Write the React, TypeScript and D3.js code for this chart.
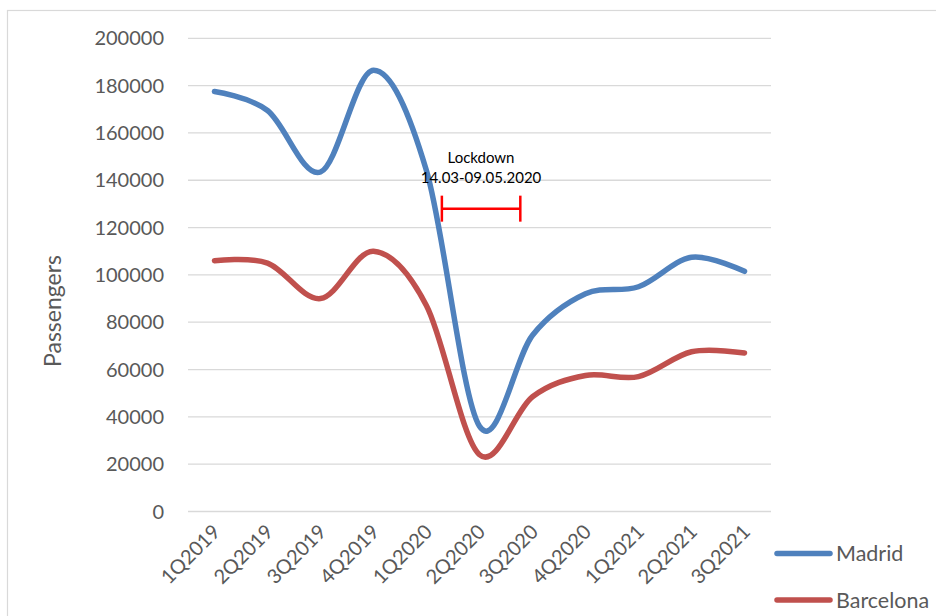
import React from "react";
import * as d3 from "d3";

// Quarterly passenger counts
const quarters = [
  "1Q2019", "2Q2019", "3Q2019", "4Q2019", "1Q2020", "2Q2020",
  "3Q2020", "4Q2020", "1Q2021", "2Q2021", "3Q2021",
];
const madrid = [177500, 169500, 143500, 186500, 144000, 36000, 74500, 92000, 95000, 107500, 101500];
const barcelona = [106000, 105000, 90000, 110000, 87000, 24000, 48500, 57500, 57000, 67500, 67000];
const yTicks = [0, 20000, 40000, 60000, 80000, 100000, 120000, 140000, 160000, 180000, 200000];

// Lockdown interval, expressed in fractional category positions
const lockdownStart = 4.29;
const lockdownEnd = 5.77;
const lockdownLevel = 128000;

const W = 936;
const H = 616;
const FONT = "Lato, 'Open Sans', sans-serif";

const series = [
  { name: "Madrid", values: madrid, color: "#4F81BD" },
  { name: "Barcelona", values: barcelona, color: "#C0504D" },
];

export default function App() {
  const x = d3.scaleBand<string>().domain(quarters).range([188, 771]);
  const cx = (i: number) => (x(quarters[0]) as number) + x.bandwidth() / 2 + i * x.step();
  const y = d3.scaleLinear().domain([0, 200000]).range([511.5, 38.3]);

  const line = d3
    .line<number>()
    .x((_, i) => cx(i))
    .y((d) => y(d))
    .curve(d3.curveCardinal.tension(0));

  const lx0 = cx(lockdownStart);
  const lx1 = cx(lockdownEnd);
  const ly = y(lockdownLevel);

  return (
    <div style={{ position: "absolute", left: 0, top: 0, width: W, height: H, background: "#fff" }}>
      <svg width={W} height={H} style={{ display: "block" }}>
        <rect x={0} y={0} width={W} height={H} fill="#fff" />
        {/* chart frame */}
        <rect x={7.5} y={10.5} width={W + 20} height={H + 20} fill="none" stroke="#d9d9d9" strokeWidth={1.2} />

        {/* gridlines */}
        {yTicks.map((t) => (
          <line key={t} x1={188} x2={771} y1={y(t)} y2={y(t)} stroke="#d9d9d9" strokeWidth={1.3} />
        ))}

        {/* y tick labels */}
        {yTicks.map((t) => (
          <text
            key={"l" + t}
            x={164}
            y={y(t)}
            dy="0.35em"
            textAnchor="end"
            fontFamily={FONT}
            fontSize={20}
            fill="#595959"
          >
            {t}
          </text>
        ))}

        {/* y axis title */}
        <text
          transform="translate(61,311) rotate(-90)"
          textAnchor="middle"
          fontFamily={FONT}
          fontSize={23}
          fill="#595959"
        >
          Passengers
        </text>

        {/* x tick labels */}
        {quarters.map((q, i) => (
          <text
            key={q}
            transform={`translate(${cx(i) + 7},${533}) rotate(-45)`}
            textAnchor="end"
            fontFamily={FONT}
            fontSize={20}
            fill="#595959"
          >
            {q}
          </text>
        ))}

        {/* series lines */}
        {series.map((s) => (
          <path
            key={s.name}
            d={line(s.values) ?? ""}
            fill="none"
            stroke={s.color}
            strokeWidth={5.5}
            strokeLinecap="round"
            strokeLinejoin="round"
          />
        ))}

        {/* lockdown annotation */}
        <text x={481} y={163} textAnchor="middle" fontFamily={FONT} fontSize={15} fill="#000">
          Lockdown
        </text>
        <text x={481} y={183} textAnchor="middle" fontFamily={FONT} fontSize={15} fill="#000">
          14.03-09.05.2020
        </text>
        <g stroke="#FF0000" strokeWidth={2.5}>
          <line x1={lx0} x2={lx1} y1={ly} y2={ly} />
          <line x1={lx0} x2={lx0} y1={ly - 13} y2={ly + 13} />
          <line x1={lx1} x2={lx1} y1={ly - 13} y2={ly + 13} />
        </g>

        {/* legend */}
        {series.map((s, i) => (
          <g key={"lg" + s.name} transform={`translate(0,${553.5 + i * 46.5})`}>
            <line x1={777} x2={830} y1={0} y2={0} stroke={s.color} strokeWidth={5.5} strokeLinecap="round" />
            <text x={836} y={0} dy="0.35em" fontFamily={FONT} fontSize={21.5} fill="#595959">
              {s.name}
            </text>
          </g>
        ))}
      </svg>
    </div>
  );
}
